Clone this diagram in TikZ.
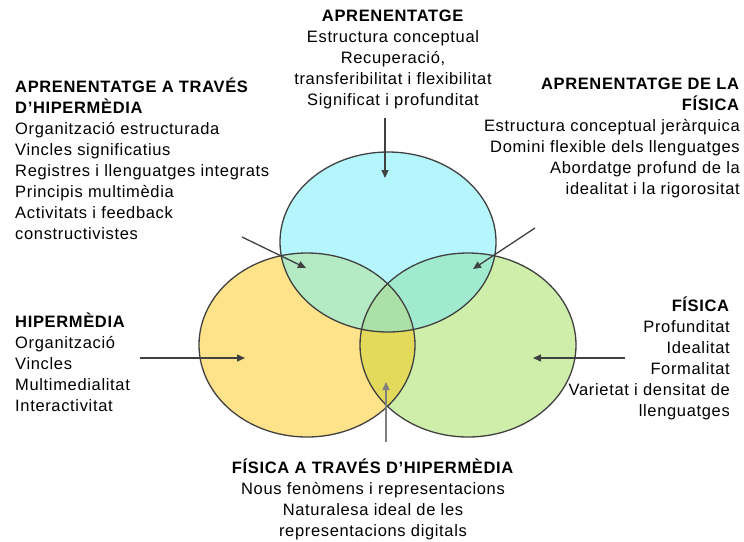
\documentclass[tikz,border=0pt]{standalone}
\usepackage{fontspec}
\setmainfont{Liberation Sans}[LetterSpace=4.0]
\usetikzlibrary{arrows.meta}

\definecolor{cyanF}{HTML}{B5F6FC}
\definecolor{yellowF}{HTML}{FFE38A}
\definecolor{greenF}{HTML}{CFEEAA}
\definecolor{cyYF}{HTML}{B4EBC4}
\definecolor{cyGF}{HTML}{A0EBD0}
\definecolor{yeGF}{HTML}{E3DA5C}
\definecolor{allF}{HTML}{ABE0A6}

\newcommand{\ellC}{(388,242) ellipse [x radius=108, y radius=90]}
\newcommand{\ellY}{(307,345) ellipse [x radius=108, y radius=92]}
\newcommand{\ellG}{(468,345) ellipse [x radius=108, y radius=92]}

\tikzset{
  ring/.style={draw=black!75, line width=1.3pt},
  pointer/.style={draw=black!75, line width=1.3pt, -{Triangle[length=8pt,width=7pt]}},
  txt/.style={inner sep=0pt, font=\fontsize{16.5}{21}\selectfont},
}

\begin{document}
\begin{tikzpicture}[x=1pt,y=-1pt]
  \useasboundingbox (0,0) rectangle (744,541);

  % circles
  \fill[yellowF] \ellY ;
  \fill[greenF] \ellG ;
  \fill[cyanF] \ellC ;
  \begin{scope}
    \clip \ellY ;
    \fill[yeGF] \ellG ;
    \fill[cyYF] \ellC ;
  \end{scope}
  \begin{scope}
    \clip \ellG ;
    \fill[cyGF] \ellC ;
  \end{scope}
  \begin{scope}
    \clip \ellY ;
    \clip \ellG ;
    \fill[allF] \ellC ;
  \end{scope}
  \draw[ring] \ellY ;
  \draw[ring] \ellG ;
  \draw[ring] \ellC ;

  % texts
  \node[txt, anchor=north, align=center] (aprenentatge) at (393,10)
    {\textbf{APRENENTATGE}\\Estructura conceptual\\Recuperació,\\transferibilitat i flexibilitat\\Significat i profunditat};
  \node[txt, anchor=north west, align=left] (aprHiper) at (15,78)
    {\textbf{APRENENTATGE A TRAVÉS}\\\textbf{D’HIPERMÈDIA}\\Organització estructurada\\Vincles significatius\\Registres i llenguatges integrats\\Principis multimèdia\\Activitats i feedback\\constructivistes};
  \node[txt, anchor=north east, align=right] (aprFisica) at (740,78)
    {\textbf{APRENENTATGE DE LA}\\\textbf{FÍSICA}\\Estructura conceptual jeràrquica\\Domini flexible dels llenguatges\\Abordatge profund de la\\idealitat i la rigorositat};
  \node[txt, anchor=north west, align=left] (hipermedia) at (15,313)
    {\textbf{HIPERMÈDIA}\\Organització\\Vincles\\Multimedialitat\\Interactivitat};
  \node[txt, anchor=north east, align=right] (fisica) at (730,297)
    {\textbf{FÍSICA}\\Profunditat\\Idealitat\\Formalitat\\Varietat i densitat de\\llenguatges};
  \node[txt, anchor=north, align=center] (fisHiper) at (373,459)
    {\textbf{FÍSICA A TRAVÉS D’HIPERMÈDIA}\\Nous fenòmens i representacions\\Naturalesa ideal de les\\representacions digitals};

  % arrows
  \coordinate (aprFrom) at (385,118);
  \coordinate (aprTo) at (385,178);
  \coordinate (ahFrom) at (242,237);
  \coordinate (ahTo) at (306,268);
  \coordinate (afFrom) at (535,228);
  \coordinate (afTo) at (473,269);
  \coordinate (hipFrom) at (140,358);
  \coordinate (hipTo) at (245,358);
  \coordinate (fisFrom) at (625,358);
  \coordinate (fisTo) at (533,358);
  \coordinate (fhFrom) at (386,442);
  \coordinate (fhTo) at (386,382);

  \draw[pointer] (aprFrom) -- (aprTo);
  \draw[pointer] (ahFrom) -- (ahTo);
  \draw[pointer] (afFrom) -- (afTo);
  \draw[pointer] (hipFrom) -- (hipTo);
  \draw[pointer] (fisFrom) -- (fisTo);
  \draw[pointer, draw=black!50] (fhFrom) -- (fhTo);

\end{tikzpicture}
\end{document}
